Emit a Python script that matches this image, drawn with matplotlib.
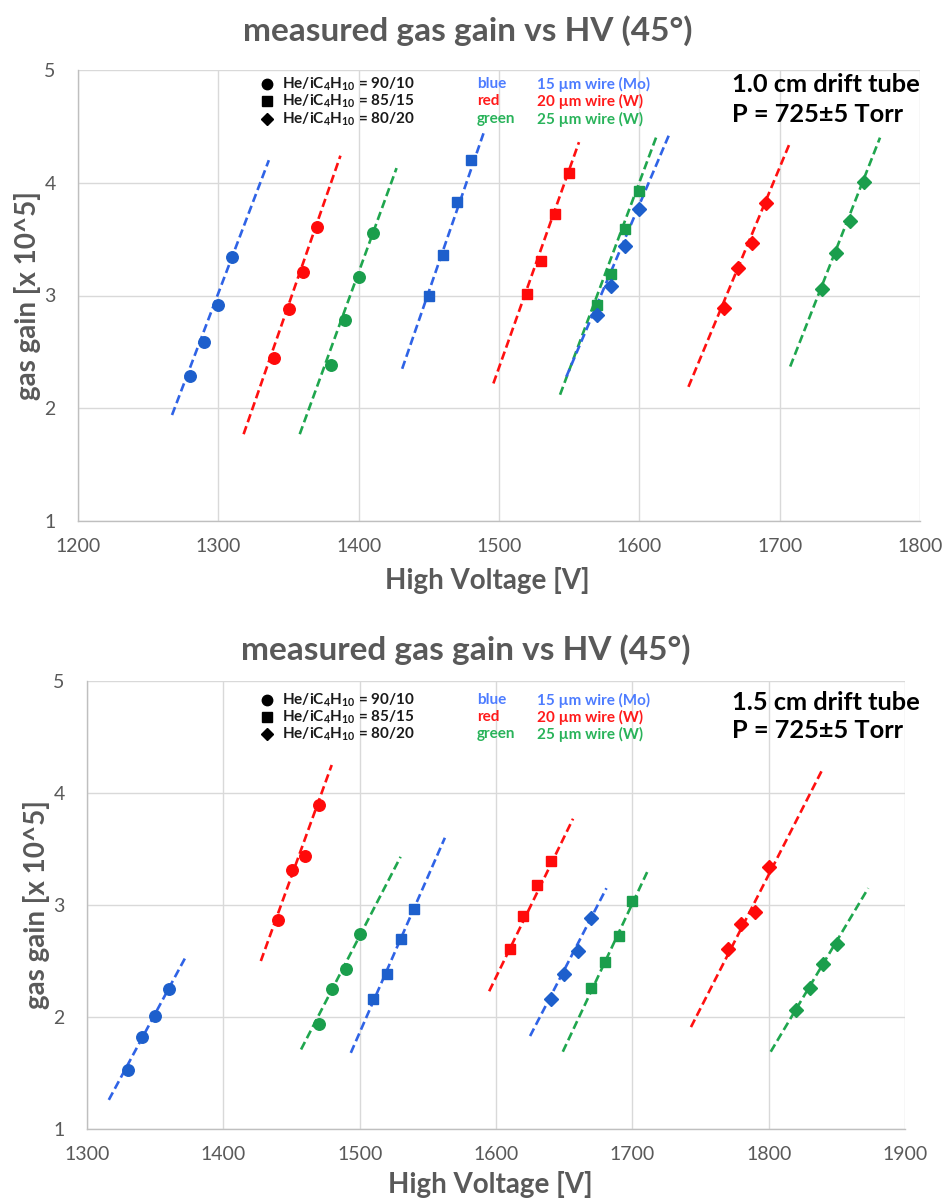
import numpy as np
import matplotlib
matplotlib.use("Agg")
import matplotlib.pyplot as plt
from matplotlib.lines import Line2D

plt.rcParams['font.family'] = ['Lato', 'DejaVu Sans']
plt.rcParams['mathtext.fontset'] = 'custom'
plt.rcParams['mathtext.rm'] = 'Lato:bold'
plt.rcParams['mathtext.it'] = 'Lato:bold'
plt.rcParams['mathtext.bf'] = 'Lato:bold'

# ---------------- data: top panel (1.0 cm drift tube) ----------------
top_hv_blue_c = [1280, 1290, 1300, 1310]
top_gain_blue_c = [2.29, 2.59, 2.92, 3.34]
top_line_hv_blue_c = [1267, 1336]
top_line_gain_blue_c = [1.94, 4.20]

top_hv_red_c = [1340, 1350, 1360, 1370]
top_gain_red_c = [2.45, 2.88, 3.21, 3.61]
top_line_hv_red_c = [1318, 1387]
top_line_gain_red_c = [1.77, 4.24]

top_hv_green_c = [1380, 1390, 1400, 1410]
top_gain_green_c = [2.38, 2.78, 3.16, 3.55]
top_line_hv_green_c = [1358, 1427]
top_line_gain_green_c = [1.77, 4.13]

top_hv_blue_s = [1450, 1460, 1470, 1480]
top_gain_blue_s = [3.00, 3.36, 3.83, 4.20]
top_line_hv_blue_s = [1431, 1489]
top_line_gain_blue_s = [2.35, 4.44]

top_hv_red_s = [1520, 1530, 1540, 1550]
top_gain_red_s = [3.01, 3.31, 3.72, 4.09]
top_line_hv_red_s = [1496, 1557]
top_line_gain_red_s = [2.22, 4.36]

top_hv_green_s = [1570, 1580, 1590, 1600]
top_gain_green_s = [2.92, 3.19, 3.59, 3.93]
top_line_hv_green_s = [1543.5, 1612.5]
top_line_gain_green_s = [2.12, 4.42]

top_hv_blue_d = [1570, 1580, 1590, 1600]
top_gain_blue_d = [2.83, 3.08, 3.44, 3.77]
top_line_hv_blue_d = [1548, 1621]
top_line_gain_blue_d = [2.28, 4.42]

top_hv_red_d = [1660, 1670, 1680, 1690]
top_gain_red_d = [2.89, 3.24, 3.47, 3.82]
top_line_hv_red_d = [1635, 1707.5]
top_line_gain_red_d = [2.19, 4.36]

top_hv_green_d = [1730, 1740, 1750, 1760]
top_gain_green_d = [3.06, 3.38, 3.66, 4.01]
top_line_hv_green_d = [1707.5, 1771.5]
top_line_gain_green_d = [2.37, 4.40]

# ---------------- data: bottom panel (1.5 cm drift tube) ----------------
bot_hv_blue_c = [1330, 1340, 1350, 1360]
bot_gain_blue_c = [1.53, 1.82, 2.01, 2.25]
bot_line_hv_blue_c = [1316, 1373]
bot_line_gain_blue_c = [1.26, 2.55]

bot_hv_red_c = [1440, 1450, 1460, 1470]
bot_gain_red_c = [2.87, 3.31, 3.44, 3.89]
bot_line_hv_red_c = [1427.5, 1479.5]
bot_line_gain_red_c = [2.50, 4.25]

bot_hv_green_c = [1470, 1480, 1490, 1500]
bot_gain_green_c = [1.94, 2.25, 2.43, 2.74]
bot_line_hv_green_c = [1457, 1530]
bot_line_gain_green_c = [1.71, 3.43]

bot_hv_blue_s = [1510, 1520, 1530, 1540]
bot_gain_blue_s = [2.16, 2.38, 2.70, 2.96]
bot_line_hv_blue_s = [1493.5, 1562.5]
bot_line_gain_blue_s = [1.68, 3.60]

bot_hv_red_s = [1610, 1620, 1630, 1640]
bot_gain_red_s = [2.61, 2.90, 3.18, 3.39]
bot_line_hv_red_s = [1595, 1656.5]
bot_line_gain_red_s = [2.23, 3.77]

bot_hv_blue_d = [1640, 1650, 1660, 1670]
bot_gain_blue_d = [2.16, 2.38, 2.59, 2.88]
bot_line_hv_blue_d = [1625, 1681]
bot_line_gain_blue_d = [1.83, 3.15]

bot_hv_green_s = [1670, 1680, 1690, 1700]
bot_gain_green_s = [2.26, 2.49, 2.72, 3.04]
bot_line_hv_green_s = [1649, 1711.5]
bot_line_gain_green_s = [1.69, 3.31]

bot_hv_red_d = [1770, 1780, 1790, 1800]
bot_gain_red_d = [2.61, 2.83, 2.94, 3.34]
bot_line_hv_red_d = [1743, 1839]
bot_line_gain_red_d = [1.91, 4.20]

bot_hv_green_d = [1820, 1830, 1840, 1850]
bot_gain_green_d = [2.06, 2.26, 2.47, 2.65]
bot_line_hv_green_d = [1801.5, 1873]
bot_line_gain_green_d = [1.69, 3.15]

top_xticks = [1200, 1300, 1400, 1500, 1600, 1700, 1800]
bot_xticks = [1300, 1400, 1500, 1600, 1700, 1800, 1900]
yticks = [1, 2, 3, 4, 5]

title_text = "measured gas gain vs HV (45°)"
xlabel_text = "High Voltage [V]"
ylabel_text = "gas gain [x 10^5]"
mix_labels = [r"He/iC$_4$H$_{10}$ = 90/10", r"He/iC$_4$H$_{10}$ = 85/15", r"He/iC$_4$H$_{10}$ = 80/20"]
color_words = ["blue", "red", "green"]
wire_labels = ["15 µm wire (Mo)", "20 µm wire (W)", "25 µm wire (W)"]
top_info = ["1.0 cm drift tube", "P = 725±5 Torr"]
bot_info = ["1.5 cm drift tube", "P = 725±5 Torr"]

# ---------------- styling ----------------
LINE_COL = {"blue": "#2f63e6", "red": "#ff1010", "green": "#1fa64e"}
MARK_COL = {"blue": "#1d5fcc", "red": "#ff0a0a", "green": "#1a9e4c"}
TEXT_COL = {"blue": "#4d7cff", "red": "#ff1a1a", "green": "#29b35a"}
MARKER = {"c": ("o", 8.3), "s": ("s", 7.8), "d": ("D", 7.3)}
GRAY = "#595959"

top_series = [
    ("blue", "c", top_hv_blue_c, top_gain_blue_c, top_line_hv_blue_c, top_line_gain_blue_c),
    ("red", "c", top_hv_red_c, top_gain_red_c, top_line_hv_red_c, top_line_gain_red_c),
    ("green", "c", top_hv_green_c, top_gain_green_c, top_line_hv_green_c, top_line_gain_green_c),
    ("blue", "s", top_hv_blue_s, top_gain_blue_s, top_line_hv_blue_s, top_line_gain_blue_s),
    ("red", "s", top_hv_red_s, top_gain_red_s, top_line_hv_red_s, top_line_gain_red_s),
    ("green", "s", top_hv_green_s, top_gain_green_s, top_line_hv_green_s, top_line_gain_green_s),
    ("blue", "d", top_hv_blue_d, top_gain_blue_d, top_line_hv_blue_d, top_line_gain_blue_d),
    ("red", "d", top_hv_red_d, top_gain_red_d, top_line_hv_red_d, top_line_gain_red_d),
    ("green", "d", top_hv_green_d, top_gain_green_d, top_line_hv_green_d, top_line_gain_green_d),
]
bot_series = [
    ("blue", "c", bot_hv_blue_c, bot_gain_blue_c, bot_line_hv_blue_c, bot_line_gain_blue_c),
    ("red", "c", bot_hv_red_c, bot_gain_red_c, bot_line_hv_red_c, bot_line_gain_red_c),
    ("green", "c", bot_hv_green_c, bot_gain_green_c, bot_line_hv_green_c, bot_line_gain_green_c),
    ("blue", "s", bot_hv_blue_s, bot_gain_blue_s, bot_line_hv_blue_s, bot_line_gain_blue_s),
    ("red", "s", bot_hv_red_s, bot_gain_red_s, bot_line_hv_red_s, bot_line_gain_red_s),
    ("blue", "d", bot_hv_blue_d, bot_gain_blue_d, bot_line_hv_blue_d, bot_line_gain_blue_d),
    ("green", "s", bot_hv_green_s, bot_gain_green_s, bot_line_hv_green_s, bot_line_gain_green_s),
    ("red", "d", bot_hv_red_d, bot_gain_red_d, bot_line_hv_red_d, bot_line_gain_red_d),
    ("green", "d", bot_hv_green_d, bot_gain_green_d, bot_line_hv_green_d, bot_line_gain_green_d),
]

W, H = 944, 1198
fig = plt.figure(figsize=(W / 100, H / 100), dpi=100)
ax_top = fig.add_axes([78 / W, 1 - 521 / H, 842 / W, 451 / H])
ax_bot = fig.add_axes([87 / W, 1 - 1129 / H, 818 / W, 448 / H])


def style_axes(ax, xticks, xlab_pos, ylab_pos):
    ax.set_xlim(xticks[0], xticks[-1])
    ax.set_ylim(yticks[0], yticks[-1])
    ax.set_xticks(xticks)
    ax.set_yticks(yticks)
    ax.grid(True, color="#d9d9d9", linewidth=1.0)
    ax.set_axisbelow(True)
    for side in ["top", "right"]:
        ax.spines[side].set_visible(False)
    for side in ["left", "bottom"]:
        ax.spines[side].set_color("#bfbfbf")
        ax.spines[side].set_linewidth(1.0)
    ax.tick_params(axis="both", length=0, labelsize=14, labelcolor=GRAY)
    ax.tick_params(axis="x", pad=12)
    ax.tick_params(axis="y", pad=16)
    ax.set_xlabel(xlabel_text, fontsize=20, fontweight="bold", color=GRAY, va="center")
    ax.set_ylabel(ylabel_text, fontsize=20, fontweight="bold", color=GRAY, va="center")
    ax.xaxis.set_label_coords(*xlab_pos)
    ax.yaxis.set_label_coords(*ylab_pos)


def draw_series(ax, series):
    for col, mk, hv, gain, lhv, lgain in series:
        ax.plot(lhv, lgain, linestyle=(0, (3.2, 1.6)), color=LINE_COL[col], linewidth=1.9, zorder=2)
    for col, mk, hv, gain, lhv, lgain in series:
        m, ms = MARKER[mk]
        ax.plot(hv, gain, linestyle="none", marker=m, markersize=ms, color=MARK_COL[col],
                markeredgecolor=MARK_COL[col], zorder=3)


style_axes(ax_top, top_xticks, ((487 - 78) / 842, (521 - 580) / 451), ((28 - 78) / 842, 0.5))
style_axes(ax_bot, bot_xticks, ((490 - 87) / 818, (1129 - 1184) / 448), ((37 - 87) / 818, 0.5))
draw_series(ax_top, top_series)
draw_series(ax_bot, bot_series)

fig.text(468 / W, 1 - 31 / H, title_text, fontsize=24, fontweight="bold", color=GRAY,
         ha="center", va="center")
fig.text(466 / W, 1 - 650 / H, title_text, fontsize=24, fontweight="bold", color=GRAY,
         ha="center", va="center")

for rows in ([84, 101, 119], [700, 717, 734]):
    for i, y in enumerate(rows):
        fig.lines.append(Line2D([267 / W], [1 - y / H],
                         marker=["o", "s", "D"][i], markersize=[7.5, 6.5, 6.5][i],
                         color="black", linestyle="none", transform=fig.transFigure))
        fig.text(282 / W, 1 - y / H, mix_labels[i], fontsize=11, fontweight="bold",
                 color="#1a1a1a", va="center", ha="left")
        fig.text(477 / W, 1 - y / H, color_words[i], fontsize=11, fontweight="bold",
                 color=TEXT_COL[color_words[i]], va="center", ha="left")
        fig.text(537 / W, 1 - y / H, wire_labels[i], fontsize=11, fontweight="bold",
                 color=TEXT_COL[color_words[i]], va="center", ha="left")

for info, ys in ((top_info, [84, 114]), (bot_info, [702, 731])):
    for t, y in zip(info, ys):
        fig.text(732 / W, 1 - y / H, t, fontsize=18.3, fontweight="bold", color="black",
                 va="center", ha="left")

fig.savefig("out.png", dpi=100, facecolor="white")
